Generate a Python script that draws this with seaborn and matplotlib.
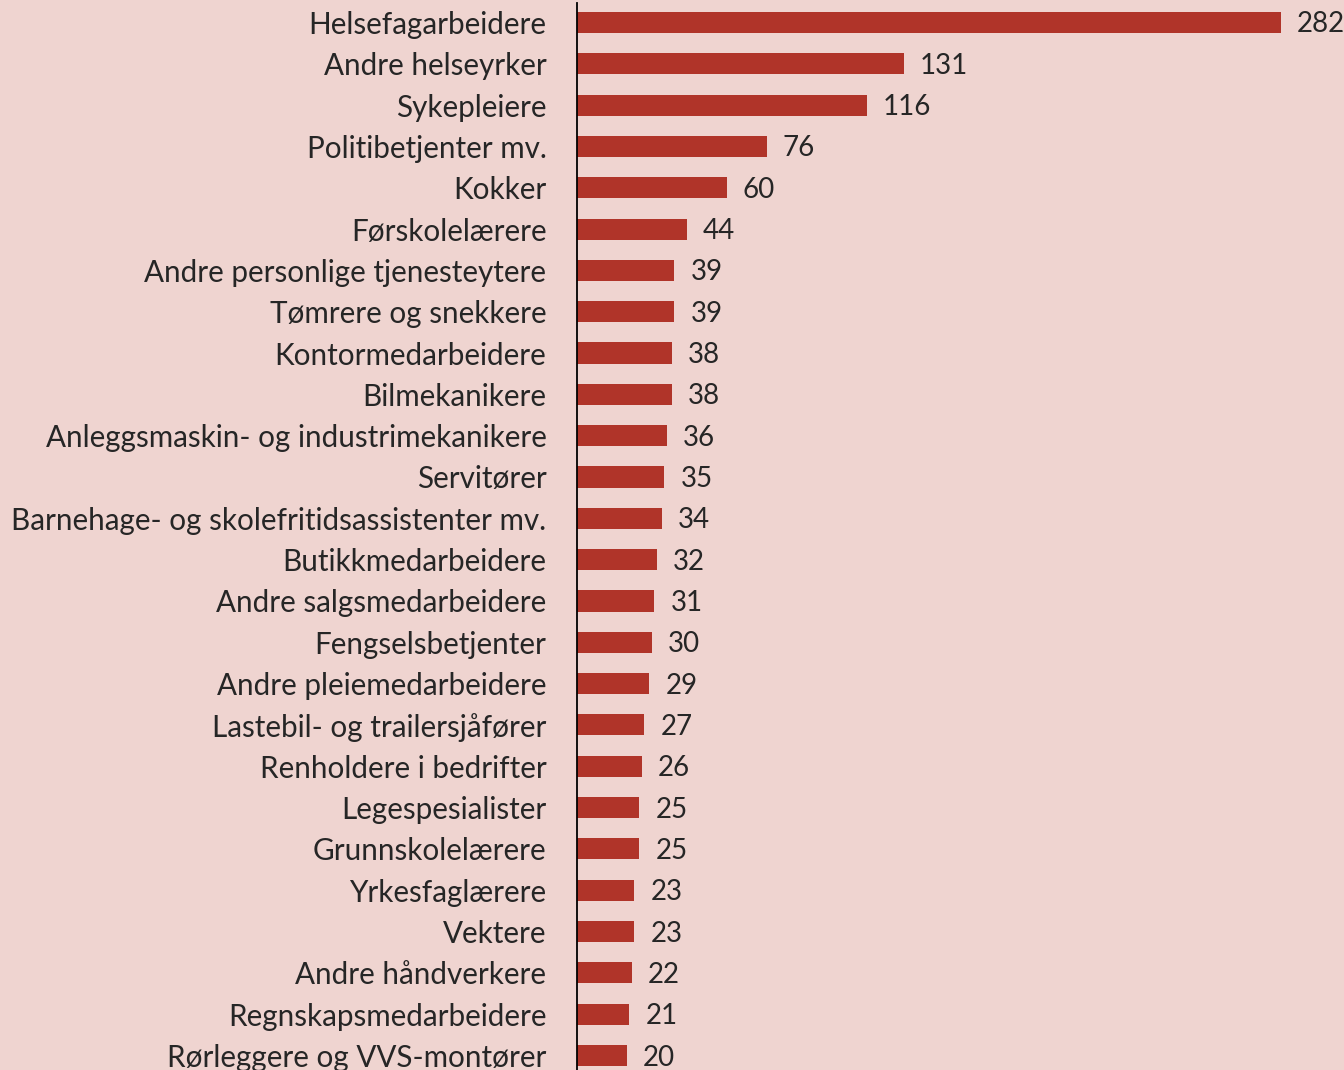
import matplotlib
matplotlib.use("Agg")
import matplotlib.pyplot as plt
import seaborn as sns
import pandas as pd

# Yrker og antall
yrker = [
    "Helsefagarbeidere", "Andre helseyrker", "Sykepleiere", "Politibetjenter mv.",
    "Kokker", "Førskolelærere", "Andre personlige tjenesteytere",
    "Tømrere og snekkere", "Kontormedarbeidere", "Bilmekanikere",
    "Anleggsmaskin- og industrimekanikere", "Servitører",
    "Barnehage- og skolefritidsassistenter mv.", "Butikkmedarbeidere",
    "Andre salgsmedarbeidere", "Fengselsbetjenter", "Andre pleiemedarbeidere",
    "Lastebil- og trailersjåfører", "Renholdere i bedrifter", "Legespesialister",
    "Grunnskolelærere", "Yrkesfaglærere", "Vektere", "Andre håndverkere",
    "Regnskapsmedarbeidere", "Rørleggere og VVS-montører",
]
antall = [282, 131, 116, 76, 60, 44, 39, 39, 38, 38, 36, 35, 34, 32, 31, 30,
          29, 27, 26, 25, 25, 23, 23, 22, 21, 20]

bg = "#efd4d0"
bar_color = "#b03429"
text_color = "#262626"

sns.set_style("white")
plt.rcParams["font.family"] = ["Lato", "DejaVu Sans"]

df = pd.DataFrame({"yrke": yrker, "antall": antall})

fig = plt.figure(figsize=(13.44, 10.70), dpi=100, facecolor=bg)
ax = fig.add_axes([577 / 1344, 0, 1 - 577 / 1344, 1 - 3 / 1070])
ax.set_facecolor(bg)

sns.barplot(data=df, y="yrke", x="antall", orient="h", color=bar_color,
            saturation=1, width=0.51, linewidth=0, ax=ax)

ax.set_xlim(0, 307.2)
ax.set_ylim(25.35, -0.47)
ax.set_xlabel("")
ax.set_ylabel("")
ax.set_xticks([])
ax.tick_params(axis="y", length=0, pad=22, labelsize=21.3, labelcolor=text_color)

for s in ["top", "right", "bottom"]:
    ax.spines[s].set_visible(False)
ax.spines["left"].set_color("#000000")
ax.spines["left"].set_linewidth(1.3)

for i, v in enumerate(antall):
    ax.text(v + 6.4, i + 0.05, str(v), va="center", ha="left",
            fontsize=20, color=text_color)

fig.savefig("out.png", dpi=100, facecolor=bg)
